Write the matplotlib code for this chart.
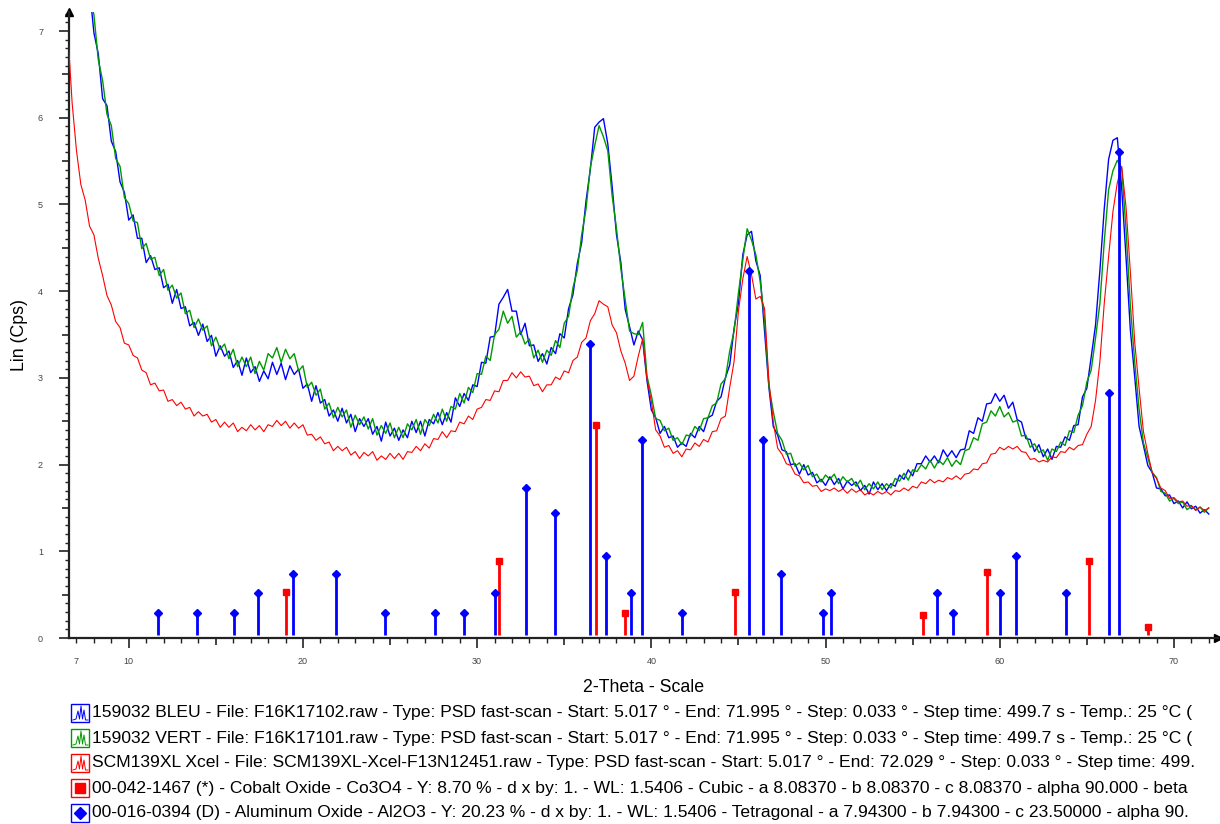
import numpy as np
import matplotlib
matplotlib.use("Agg")
import matplotlib.pyplot as plt
from matplotlib.patches import Rectangle
from matplotlib.ticker import FixedLocator, MultipleLocator

plt.rcParams['font.family'] = ['Liberation Sans', 'DejaVu Sans']

# scan positions (2-theta, 0.25 deg read-off grid)
two_theta = np.arange(6.5, 72.001, 0.25)
two_theta_bv = two_theta[5:]   # blue / green curves enter the frame at 7.75

# 159032 BLEU (from 7.75)
bleu = [7.49, 6.98, 6.74, 6.22, 6.14, 5.73, 5.61, 5.26,
        5.14, 4.82, 4.88, 4.61, 4.61, 4.33, 4.41, 4.25,
        4.27, 4.04, 4.08, 3.86, 4.02, 3.80, 3.82, 3.60,
        3.64, 3.49, 3.62, 3.42, 3.49, 3.25, 3.37, 3.25,
        3.31, 3.12, 3.20, 3.03, 3.23, 3.06, 3.13, 2.96,
        3.08, 2.99, 3.18, 3.04, 3.17, 2.98, 3.14, 3.04,
        3.10, 2.88, 2.93, 2.73, 2.91, 2.71, 2.75, 2.56,
        2.63, 2.50, 2.65, 2.48, 2.58, 2.38, 2.53, 2.44,
        2.53, 2.35, 2.44, 2.27, 2.49, 2.33, 2.42, 2.28,
        2.40, 2.31, 2.50, 2.37, 2.50, 2.33, 2.52, 2.47,
        2.60, 2.46, 2.60, 2.49, 2.77, 2.67, 2.82, 2.74,
        2.92, 2.90, 3.18, 3.17, 3.47, 3.48, 3.85, 3.93,
        4.02, 3.77, 3.77, 3.50, 3.63, 3.37, 3.38, 3.19,
        3.28, 3.16, 3.35, 3.28, 3.51, 3.46, 3.80, 3.96,
        4.32, 4.56, 5.04, 5.41, 5.89, 5.95, 5.99, 5.70,
        5.21, 4.65, 4.33, 3.79, 3.59, 3.38, 3.54, 3.44,
        2.97, 2.63, 2.54, 2.36, 2.44, 2.31, 2.33, 2.20,
        2.25, 2.21, 2.36, 2.31, 2.44, 2.38, 2.54, 2.57,
        2.73, 2.78, 3.00, 3.15, 3.57, 3.86, 4.42, 4.65,
        4.69, 4.35, 4.18, 3.53, 2.89, 2.44, 2.34, 2.17,
        2.15, 2.00, 2.01, 1.89, 2.00, 1.88, 1.91, 1.79,
        1.83, 1.76, 1.86, 1.77, 1.84, 1.72, 1.81, 1.76,
        1.80, 1.70, 1.76, 1.66, 1.80, 1.71, 1.78, 1.70,
        1.78, 1.75, 1.88, 1.83, 1.94, 1.87, 2.01, 2.01,
        2.10, 2.03, 2.10, 2.02, 2.17, 2.09, 2.16, 2.08,
        2.17, 2.18, 2.39, 2.36, 2.54, 2.50, 2.70, 2.71,
        2.82, 2.73, 2.80, 2.65, 2.72, 2.52, 2.49, 2.30,
        2.29, 2.15, 2.23, 2.09, 2.18, 2.06, 2.21, 2.20,
        2.32, 2.28, 2.45, 2.46, 2.78, 2.88, 3.24, 3.61,
        4.24, 4.95, 5.52, 5.74, 5.77, 5.19, 4.39, 3.55,
        3.01, 2.44, 2.22, 1.99, 1.91, 1.73, 1.72, 1.64,
        1.65, 1.55, 1.58, 1.50, 1.57, 1.49, 1.52, 1.44,
        1.48, 1.43]

# 159032 VERT (from 7.75)
vert = [7.40, 7.19, 6.67, 6.43, 6.04, 5.91, 5.53, 5.44,
        5.08, 5.01, 4.81, 4.79, 4.49, 4.55, 4.37, 4.39,
        4.18, 4.25, 4.01, 4.07, 3.92, 3.98, 3.74, 3.78,
        3.58, 3.68, 3.55, 3.60, 3.37, 3.47, 3.33, 3.39,
        3.22, 3.33, 3.13, 3.24, 3.13, 3.24, 3.05, 3.19,
        3.09, 3.28, 3.23, 3.35, 3.18, 3.33, 3.22, 3.28,
        3.08, 3.14, 2.89, 2.95, 2.80, 2.87, 2.64, 2.71,
        2.54, 2.66, 2.55, 2.63, 2.43, 2.57, 2.46, 2.55,
        2.41, 2.53, 2.34, 2.45, 2.36, 2.48, 2.31, 2.43,
        2.31, 2.47, 2.40, 2.52, 2.35, 2.52, 2.45, 2.58,
        2.48, 2.64, 2.50, 2.67, 2.64, 2.82, 2.71, 2.89,
        2.83, 3.05, 3.04, 3.25, 3.20, 3.50, 3.56, 3.77,
        3.63, 3.71, 3.47, 3.53, 3.39, 3.45, 3.23, 3.32,
        3.18, 3.32, 3.26, 3.43, 3.35, 3.63, 3.71, 4.04,
        4.24, 4.65, 4.95, 5.43, 5.68, 5.91, 5.78, 5.62,
        5.10, 4.72, 4.26, 3.90, 3.54, 3.51, 3.50, 3.64,
        3.02, 2.80, 2.53, 2.51, 2.39, 2.42, 2.28, 2.31,
        2.23, 2.34, 2.33, 2.44, 2.39, 2.53, 2.54, 2.68,
        2.71, 2.93, 2.99, 3.31, 3.54, 3.98, 4.36, 4.72,
        4.59, 4.42, 4.11, 3.67, 2.90, 2.61, 2.36, 2.28,
        2.12, 2.13, 1.98, 2.02, 1.94, 1.99, 1.86, 1.89,
        1.80, 1.88, 1.83, 1.89, 1.78, 1.86, 1.80, 1.84,
        1.75, 1.82, 1.71, 1.78, 1.72, 1.80, 1.71, 1.78,
        1.73, 1.84, 1.81, 1.90, 1.82, 1.94, 1.92, 2.00,
        1.95, 2.05, 1.96, 2.05, 2.00, 2.08, 1.98, 2.05,
        2.00, 2.16, 2.18, 2.31, 2.28, 2.47, 2.49, 2.62,
        2.56, 2.67, 2.55, 2.60, 2.49, 2.51, 2.33, 2.34,
        2.20, 2.24, 2.14, 2.17, 2.05, 2.18, 2.15, 2.26,
        2.22, 2.39, 2.37, 2.57, 2.68, 2.95, 3.09, 3.46,
        3.86, 4.57, 5.17, 5.39, 5.51, 5.42, 4.71, 3.83,
        3.18, 2.64, 2.25, 2.08, 1.91, 1.85, 1.69, 1.67,
        1.58, 1.61, 1.55, 1.57, 1.48, 1.52, 1.48, 1.51,
        1.45, 1.50]

# SCM139XL Xcel (from 6.50)
xcel = [6.99, 6.17, 5.62, 5.23, 5.05, 4.75, 4.65, 4.38,
        4.18, 3.95, 3.84, 3.65, 3.58, 3.40, 3.38, 3.26,
        3.23, 3.09, 3.06, 2.92, 2.94, 2.85, 2.86, 2.73,
        2.75, 2.68, 2.72, 2.64, 2.66, 2.56, 2.61, 2.56,
        2.58, 2.49, 2.52, 2.43, 2.49, 2.43, 2.48, 2.38,
        2.43, 2.39, 2.46, 2.40, 2.45, 2.38, 2.46, 2.44,
        2.51, 2.45, 2.50, 2.42, 2.48, 2.42, 2.46, 2.34,
        2.35, 2.28, 2.32, 2.24, 2.26, 2.16, 2.21, 2.16,
        2.20, 2.11, 2.15, 2.07, 2.14, 2.10, 2.15, 2.05,
        2.10, 2.06, 2.13, 2.07, 2.13, 2.06, 2.15, 2.14,
        2.21, 2.16, 2.24, 2.19, 2.30, 2.29, 2.38, 2.31,
        2.39, 2.38, 2.49, 2.47, 2.56, 2.52, 2.64, 2.66,
        2.75, 2.74, 2.85, 2.84, 2.97, 2.97, 3.06, 3.00,
        3.07, 3.01, 3.02, 2.91, 2.93, 2.84, 2.92, 2.92,
        3.01, 2.98, 3.08, 3.06, 3.20, 3.24, 3.41, 3.46,
        3.66, 3.74, 3.89, 3.85, 3.82, 3.61, 3.52, 3.31,
        3.17, 2.97, 3.02, 3.25, 3.45, 2.99, 2.73, 2.40,
        2.33, 2.20, 2.22, 2.13, 2.16, 2.09, 2.18, 2.17,
        2.25, 2.21, 2.29, 2.26, 2.38, 2.39, 2.53, 2.56,
        2.89, 3.19, 3.77, 4.14, 4.40, 4.19, 3.91, 3.94,
        3.80, 2.96, 2.49, 2.19, 2.12, 2.01, 1.99, 1.89,
        1.87, 1.79, 1.80, 1.75, 1.76, 1.69, 1.72, 1.70,
        1.73, 1.69, 1.72, 1.67, 1.72, 1.68, 1.71, 1.65,
        1.68, 1.65, 1.69, 1.66, 1.69, 1.65, 1.70, 1.69,
        1.73, 1.70, 1.75, 1.73, 1.80, 1.78, 1.83, 1.79,
        1.82, 1.80, 1.85, 1.83, 1.87, 1.83, 1.89, 1.90,
        1.95, 1.94, 2.01, 2.02, 2.12, 2.13, 2.20, 2.17,
        2.21, 2.18, 2.21, 2.15, 2.14, 2.06, 2.07, 2.03,
        2.05, 2.03, 2.09, 2.08, 2.15, 2.14, 2.20, 2.17,
        2.22, 2.23, 2.35, 2.44, 2.74, 3.19, 3.86, 4.40,
        4.92, 5.25, 5.44, 4.97, 4.22, 3.41, 2.88, 2.38,
        2.13, 1.91, 1.84, 1.73, 1.70, 1.61, 1.62, 1.57,
        1.58, 1.52, 1.53, 1.47, 1.51, 1.47, 1.50]

# reference patterns (stick positions / heights)
co3o4_pos = [19.00, 31.25, 36.80, 38.49, 44.80, 55.61, 59.28, 65.14, 68.52]
co3o4_int = [0.53, 0.888, 2.46, 0.29, 0.53, 0.265, 0.765, 0.888, 0.127]

al2o3_pos = [11.69, 13.90, 16.05, 17.40, 19.44, 21.87, 24.71, 27.58, 29.24,
             31.02, 32.80, 34.46, 36.47, 37.39, 38.86, 39.48, 41.77, 45.60,
             46.39, 47.42, 49.83, 50.31, 56.41, 57.33, 60.01, 60.93, 63.78,
             66.27, 66.86]
al2o3_int = [0.285, 0.285, 0.285, 0.515, 0.735, 0.735, 0.285, 0.285, 0.285,
             0.515, 1.73, 1.44, 3.39, 0.95, 0.515, 2.28, 0.285, 4.23,
             2.28, 0.735, 0.285, 0.515, 0.515, 0.285, 0.515, 0.95, 0.515,
             2.83, 5.60]

legend_labels = [
    "159032 BLEU - File: F16K17102.raw - Type: PSD fast-scan - Start: 5.017 ° - End: 71.995 ° - Step: 0.033 ° - Step time: 499.7 s - Temp.: 25 °C (",
    "159032 VERT - File: F16K17101.raw - Type: PSD fast-scan - Start: 5.017 ° - End: 71.995 ° - Step: 0.033 ° - Step time: 499.7 s - Temp.: 25 °C (",
    "SCM139XL Xcel - File: SCM139XL-Xcel-F13N12451.raw - Type: PSD fast-scan - Start: 5.017 ° - End: 72.029 ° - Step: 0.033 ° - Step time: 499.",
    "00-042-1467 (*) - Cobalt Oxide - Co3O4 - Y: 8.70 % - d x by: 1. - WL: 1.5406 - Cubic - a 8.08370 - b 8.08370 - c 8.08370 - alpha 90.000 - beta",
    "00-016-0394 (D) - Aluminum Oxide - Al2O3 - Y: 20.23 % - d x by: 1. - WL: 1.5406 - Tetragonal - a 7.94300 - b 7.94300 - c 23.50000 - alpha 90.",
]

BLUE = '#0000ff'
GREEN = '#009a00'
RED = '#ff0000'

W, H = 1220, 824
fig = plt.figure(figsize=(W / 100, H / 100), dpi=100)
ax = fig.add_axes([69 / W, 1 - 638 / H, (1218 - 69) / W, (638 - 12) / H])

# scans
ax.plot(two_theta_bv, bleu, color=BLUE, lw=1.0, zorder=2)
ax.plot(two_theta_bv, vert, color=GREEN, lw=1.0, zorder=3)
ax.plot(two_theta, xcel, color=RED, lw=0.8, zorder=4)

# stick patterns
ax.vlines(al2o3_pos, 0.035, al2o3_int, colors=BLUE, lw=2.0, zorder=5)
ax.plot(al2o3_pos, al2o3_int, 'D', color=BLUE, ms=4.3, zorder=6)
ax.vlines(co3o4_pos, 0.035, co3o4_int, colors=RED, lw=2.0, zorder=5)
ax.plot(co3o4_pos, co3o4_int, 's', color=RED, ms=4.8, zorder=6)

ax.set_xlim(6.57, 72.53)
ax.set_ylim(0, 7.22)

for s in ['top', 'right']:
    ax.spines[s].set_visible(False)
for s in ['left', 'bottom']:
    ax.spines[s].set_linewidth(1.6)
    ax.spines[s].set_color('#222222')

# x ticks
x_major = [7, 10, 15, 20, 25, 30, 35, 40, 45, 50, 55, 60, 65, 70]
x_labels = ['7' if v == 7 else (str(v) if v % 10 == 0 else '') for v in x_major]
ax.xaxis.set_major_locator(FixedLocator(x_major))
ax.set_xticklabels(x_labels)
ax.xaxis.set_minor_locator(MultipleLocator(1))
ax.tick_params(axis='x', which='major', length=7.2, width=1.2, pad=6.5,
               labelsize=6.5, labelcolor='#444444', color='#222222')
ax.tick_params(axis='x', which='minor', length=3.6, width=1.0, color='#222222')
for t, v in zip(ax.xaxis.get_major_ticks(), x_major):
    if v == 7:
        t.tick1line.set_markersize(3.6)
        t.tick1line.set_markeredgewidth(1.0)
    elif v % 10 != 0:
        t.tick1line.set_markersize(5.2)

# y ticks
y_major = [i * 0.5 for i in range(15)]
y_labels = [str(int(v)) if v == int(v) else '' for v in y_major]
ax.yaxis.set_major_locator(FixedLocator(y_major))
ax.set_yticklabels(y_labels)
ax.yaxis.set_minor_locator(MultipleLocator(0.1))
ax.tick_params(axis='y', which='major', length=7.2, width=1.2, pad=11.5,
               labelsize=6.5, labelcolor='#444444', color='#222222')
ax.tick_params(axis='y', which='minor', length=2.9, width=1.0, color='#222222')
for t, v in zip(ax.yaxis.get_major_ticks(), y_major):
    if v != int(v):
        t.tick1line.set_markersize(5.0)

# axis arrows
ax.plot(0, 1, marker='^', color='black', ms=6, transform=ax.transAxes, clip_on=False)
ax.plot(1, 0, marker='>', color='black', ms=6, transform=ax.transAxes, clip_on=False)

fig.text(644 / W, 1 - 687 / H, '2-Theta - Scale', ha='center', va='center', fontsize=12.8)
fig.text(20 / W, 1 - 335 / H, 'Lin (Cps)', ha='center', va='center', rotation=90, fontsize=12.8)

# legend drawn in pixel coordinates
lax = fig.add_axes([0, 0, 1, 1])
lax.set_xlim(0, W)
lax.set_ylim(H, 0)
lax.axis('off')
lax.patch.set_alpha(0)

rows_y = [713, 738, 763, 788, 813]
box_colors = [BLUE, GREEN, RED, RED, BLUE]
glyph_dx = [2, 5, 7, 8.5, 10, 11.5, 13, 14.5, 17]
glyph_dy = [7, 6, -2, 6, -7, 6, -3, 7, 7]
for i, (yc, col, txt) in enumerate(zip(rows_y, box_colors, legend_labels)):
    lax.add_patch(Rectangle((71, yc - 9), 18, 18, fill=False, ec=col, lw=1.0))
    if i < 3:
        lax.plot([71 + d for d in glyph_dx], [yc + d for d in glyph_dy], color=col, lw=0.7)
    elif i == 3:
        lax.plot(80, yc, 's', color=col, ms=7.5)
    else:
        lax.plot(80, yc, 'D', color=col, ms=6)
    lax.text(92, yc, txt, ha='left', va='center', fontsize=12.6, color='black')

fig.savefig('out.png', dpi=100)
